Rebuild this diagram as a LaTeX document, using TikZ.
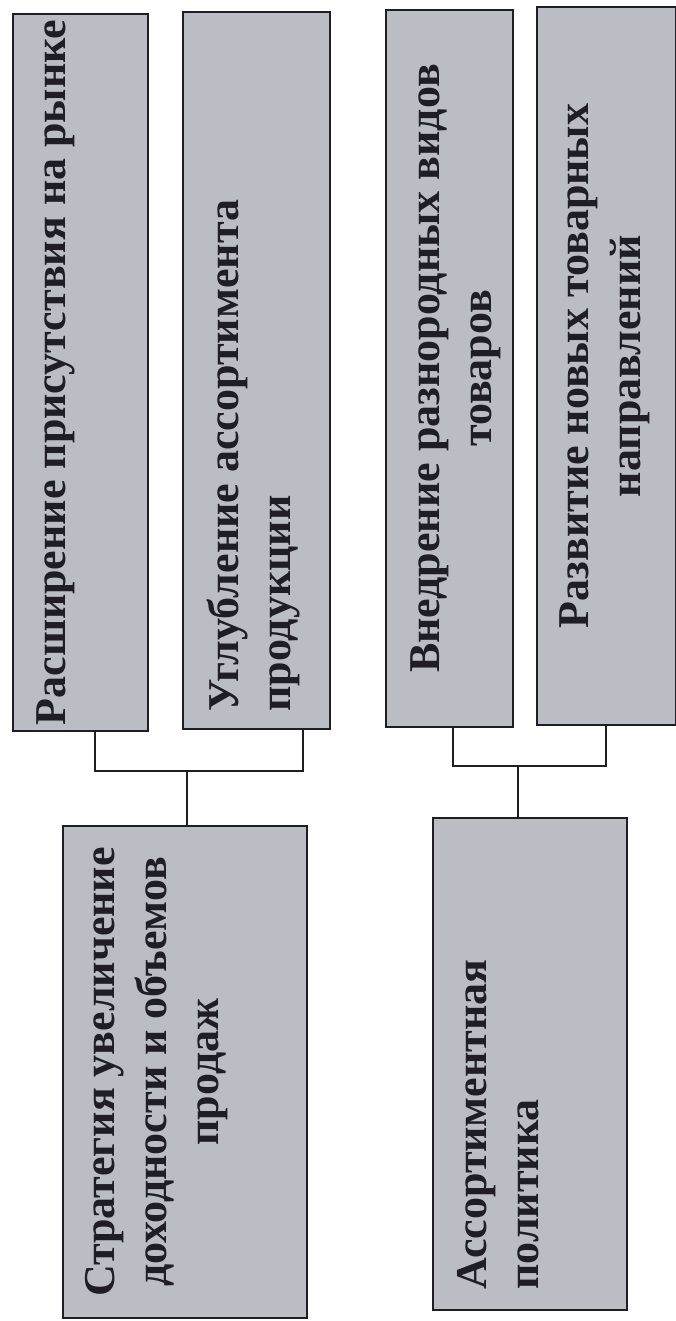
\documentclass[tikz,border=0pt]{standalone}
\usepackage{fontspec}
\setmainfont{Liberation Serif}
\definecolor{boxfill}{RGB}{187,189,197}
\definecolor{ink}{RGB}{30,30,36}
\tikzset{
  panel/.style={draw=ink, line width=1.35pt, fill=boxfill, inner sep=0pt, anchor=center},
  lbl/.style={rotate=90, inner sep=0pt, text=ink,
     font=\bfseries\fontsize{22}{26}\selectfont},
  conn/.style={draw=ink, line width=1.1pt}
}
\begin{document}
\begin{tikzpicture}[x=0.5pt,y=-0.5pt]
\useasboundingbox (0,0) rectangle (675,1321);
% boxes (px coordinates)
\node[panel, minimum width=67.5pt, minimum height=358.5pt] (b1) at (80.5,372.5) {};
\node[panel, minimum width=73.5pt, minimum height=358.5pt] (b2) at (256.5,370.5) {};
\node[panel, minimum width=63.5pt, minimum height=358.5pt] (b3) at (449.5,368.5) {};
\node[panel, minimum width=69.5pt, minimum height=359pt] (b4) at (606.5,366) {};
\node[panel, minimum width=122pt, minimum height=246pt] (b5) at (185,1072) {};
\node[panel, minimum width=97pt, minimum height=246pt] (b6) at (530,1064) {};
% texts
\node[lbl, anchor=north, align=center] (t1) at (36,372.5) {Расширение присутствия на рынке};
\node[lbl, anchor=north west, align=left] (t2) at (207,712) {Углубление ассортимента\\продукции};
\node[lbl, anchor=north, align=center] (t3) at (410,368.5) {Внедрение разнородных видов\\товаров};
\node[lbl, anchor=north, align=center] (t4) at (559,366) {Развитие новых товарных\\направлений};
\node[lbl, anchor=north, align=center] (t5) at (85,1072) {Стратегия увеличение\\доходности и объемов\\продаж};
\node[lbl, anchor=north west, align=left] (t6) at (457,1290) {Ассортиментная\\политика};
% connectors
\coordinate (k1l) at (95,771);
\coordinate (k1r) at (303,771);
\coordinate (k1m) at (187,771);
\coordinate (k2l) at (453,766);
\coordinate (k2r) at (606,766);
\coordinate (k2m) at (518,766);
\draw[conn] (b1.south -| k1l) -- (k1l) -- (k1r) -- (b2.south -| k1r);
\draw[conn] (k1m) -- (b5.north -| k1m);
\draw[conn] (b3.south -| k2l) -- (k2l) -- (k2r) -- (b4.south -| k2r);
\draw[conn] (k2m) -- (b6.north -| k2m);
\end{tikzpicture}
\end{document}
